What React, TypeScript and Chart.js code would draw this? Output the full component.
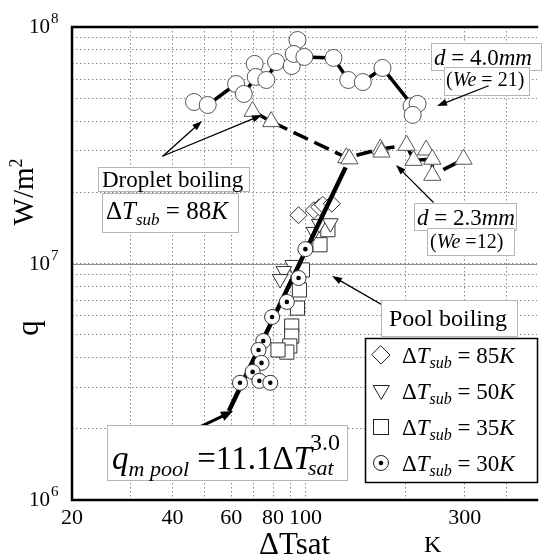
import React, { useEffect, useRef } from 'react';
import { Chart, registerables } from 'chart.js';

Chart.register(...registerables);

const FONT = '"Liberation Serif", "Times New Roman", serif';

// Droplet boiling, d = 4.0 mm (We = 21) — open circles
const drop40T = [46.4, 51.0, 62.0, 65.4, 70.5, 71.0, 76.4, 81.7, 91.0, 94.7, 92.3, 99.3, 121.4, 134.4, 148.6, 170.2, 208, 216.8, 209.6];
const drop40Q = [4.82e7, 4.68e7, 5.74e7, 5.21e7, 6.98e7, 6.15e7, 5.97e7, 7.11e7, 6.84e7, 8.81e7, 7.69e7, 7.47e7, 7.4e7, 5.97e7, 5.85e7, 6.71e7, 4.63e7, 4.73e7, 4.25e7];
// trend line through the d = 4.0 mm data
const drop40LineT = [46.4, 51.0, 62.0, 65.4, 71.0, 76.4, 81.7, 91.0, 99.3, 121.4, 134.4, 148.6, 170.2, 210];
const drop40LineQ = [4.82e7, 4.68e7, 5.74e7, 5.21e7, 6.15e7, 5.97e7, 7.11e7, 6.84e7, 7.47e7, 7.4e7, 5.97e7, 5.85e7, 6.71e7, 4.63e7];

// Droplet boiling, d = 2.3 mm (We = 12) — open triangles
const drop23T = [69.5, 79, 132.6, 135.4, 167.8, 169, 201, 211, 230, 240, 240, 297.6];
const drop23Q = [4.4e7, 3.98e7, 2.8e7, 2.77e7, 3.05e7, 2.96e7, 3.16e7, 2.73e7, 3.02e7, 2.76e7, 2.36e7, 2.76e7];
const drop23LineT = [69.5, 79, 133, 168, 201, 211, 240, 240, 298];
const drop23LineQ = [4.4e7, 3.98e7, 2.8e7, 3.05e7, 3.16e7, 2.73e7, 2.76e7, 2.36e7, 2.76e7];

// Pool boiling correlation q = 11.1 dT^3.0 (end points)
const poolLineT = [59, 132];
const poolLineQ = [2.38e6, 2.55e7];

// Pool boiling data
const sub85T = [95.4, 106, 110, 112.8, 120];
const sub85Q = [1.6e7, 1.68e7, 1.73e7, 1.77e7, 1.79e7];
const sub50T = [106, 110, 118.8, 91.6, 86.2, 84];
const sub50Q = [1.36e7, 1.47e7, 1.48e7, 9.86e6, 9.29e6, 8.6e6];
const sub35T = [116.8, 110.6, 98, 96, 94.7, 91, 91, 89.8, 88, 82.8];
const sub35Q = [1.39e7, 1.2e7, 9.39e6, 7.73e6, 6.48e6, 5.44e6, 4.93e6, 4.48e6, 4.22e6, 4.31e6];
const sub30T = [100, 95.4, 88, 79.5, 74.8, 72.4, 73.9, 69.5, 63.7, 72.8, 78.5];
const sub30Q = [1.15e7, 8.68e6, 6.88e6, 5.94e6, 4.7e6, 4.31e6, 3.8e6, 3.48e6, 3.13e6, 3.19e6, 3.13e6];

// Axes
const xGridValues = [20, 30, 40, 50, 60, 70, 80, 90, 100, 200, 300, 400];
const xTickValues = [20, 40, 60, 80, 100, 300];
const xTickLabels = ['20', '40', '60', '80', '100', '300'];
const yGridValues = [1e6, 2e6, 3e6, 4e6, 5e6, 6e6, 7e6, 8e6, 9e6, 1e7, 2e7, 3e7, 4e7, 5e7, 6e7, 7e7, 8e7, 9e7, 1e8];
const yTickValues = [1e6, 1e7, 1e8];
const yTickBase = ['10', '10', '10'];
const yTickExp = ['6', '7', '8'];
const legendValues = ['85', '50', '35', '30'];

const pts = (xs: number[], ys: number[]) => xs.map((x, i) => ({ x, y: ys[i] }));

type Piece = { t: string; size: number; italic?: boolean; dy?: number };

function richWidth(ctx: CanvasRenderingContext2D, pieces: Piece[]) {
  let w = 0;
  for (const p of pieces) {
    ctx.font = `${p.italic ? 'italic ' : ''}${p.size}px ${FONT}`;
    w += ctx.measureText(p.t).width;
  }
  return w;
}

function drawRich(ctx: CanvasRenderingContext2D, x: number, y: number, pieces: Piece[]) {
  let cx = x;
  for (const p of pieces) {
    ctx.font = `${p.italic ? 'italic ' : ''}${p.size}px ${FONT}`;
    ctx.fillText(p.t, cx, y + (p.dy || 0));
    cx += ctx.measureText(p.t).width;
  }
  return cx;
}

function arrow(ctx: CanvasRenderingContext2D, x1: number, y1: number, x2: number, y2: number, lw: number, hl: number, hw: number) {
  const ang = Math.atan2(y2 - y1, x2 - x1);
  const bx = x2 - Math.cos(ang) * hl;
  const by = y2 - Math.sin(ang) * hl;
  ctx.save();
  ctx.strokeStyle = '#000';
  ctx.fillStyle = '#000';
  ctx.lineWidth = lw;
  ctx.beginPath();
  ctx.moveTo(x1, y1);
  ctx.lineTo(bx, by);
  ctx.stroke();
  ctx.beginPath();
  ctx.moveTo(x2, y2);
  ctx.lineTo(bx + Math.sin(ang) * hw, by - Math.cos(ang) * hw);
  ctx.lineTo(bx - Math.sin(ang) * hw, by + Math.cos(ang) * hw);
  ctx.closePath();
  ctx.fill();
  ctx.restore();
}

function box(ctx: CanvasRenderingContext2D, x1: number, y1: number, x2: number, y2: number, color = '#b5b5b5', lw = 1) {
  ctx.save();
  ctx.fillStyle = '#fff';
  ctx.fillRect(x1, y1, x2 - x1, y2 - y1);
  ctx.strokeStyle = color;
  ctx.lineWidth = lw;
  ctx.strokeRect(x1 + 0.5, y1 + 0.5, x2 - x1, y2 - y1);
  ctx.restore();
}

const decorPlugin = {
  id: 'decor',
  beforeDatasetsDraw(chart: any) {
    const { ctx, chartArea: a, scales } = chart;
    const y7 = Math.round(scales.y.getPixelForValue(1e7)) + 0.5;
    ctx.save();
    ctx.strokeStyle = '#8e8e8e';
    ctx.lineWidth = 1;
    ctx.beginPath();
    ctx.moveTo(a.left, y7);
    ctx.lineTo(a.right, y7);
    ctx.stroke();
    ctx.restore();
  },
  afterDraw(chart: any) {
    const { ctx, chartArea: a, scales } = chart;
    ctx.save();
    // frame
    ctx.strokeStyle = '#000';
    ctx.lineCap = 'square';
    ctx.lineWidth = 2.5;
    ctx.beginPath();
    ctx.moveTo(a.right, a.top);
    ctx.lineTo(a.left, a.top);
    ctx.lineTo(a.left, a.bottom);
    ctx.lineTo(a.right, a.bottom);
    ctx.stroke();

    ctx.fillStyle = '#000';
    ctx.textBaseline = 'alphabetic';
    ctx.textAlign = 'left';

    // y tick labels 10^n
    yTickValues.forEach((v, i) => {
      const py = scales.y.getPixelForValue(v);
      ctx.font = `21px ${FONT}`;
      const w = ctx.measureText(yTickBase[i]).width;
      ctx.fillText(yTickBase[i], 50 - w, py + 6);
      ctx.font = `15px ${FONT}`;
      ctx.fillText(yTickExp[i], 51, py - 4);
    });

    // y axis titles
    ctx.save();
    ctx.translate(33, 192);
    ctx.rotate(-Math.PI / 2);
    const wm: Piece[] = [{ t: 'W/m', size: 29 }, { t: '2', size: 18, dy: -11 }];
    drawRich(ctx, -richWidth(ctx, wm) / 2, 0, wm);
    ctx.restore();
    ctx.save();
    ctx.translate(37.5, 328);
    ctx.rotate(-Math.PI / 2);
    ctx.font = `31px ${FONT}`;
    ctx.textAlign = 'center';
    ctx.fillText('q', 0, 0);
    ctx.restore();

    // x axis titles
    ctx.font = `31px ${FONT}`;
    ctx.fillText('\u0394Tsat', 259, 554);
    ctx.font = `24px ${FONT}`;
    ctx.fillText('K', 424, 552);

    // Droplet boiling annotation
    arrow(ctx, 163, 156, 202, 121, 1.3, 10, 3.5);
    arrow(ctx, 163, 156, 262, 115, 1.3, 10, 3.5);
    box(ctx, 98, 167, 249, 191);
    drawRich(ctx, 102, 187, [{ t: 'Droplet boiling', size: 23 }]);
    box(ctx, 102, 193, 238, 232);
    drawRich(ctx, 106, 219, [
      { t: '\u0394', size: 25 },
      { t: 'T', size: 25, italic: true },
      { t: 'sub', size: 17, italic: true, dy: 6 },
      { t: ' = 88', size: 25 },
      { t: 'K', size: 25, italic: true },
    ]);

    // d = 4.0 mm
    box(ctx, 431, 43, 541, 70);
    drawRich(ctx, 434, 65, [
      { t: 'd', size: 23, italic: true },
      { t: ' = 4.0', size: 23 },
      { t: 'mm', size: 23, italic: true },
    ]);
    box(ctx, 444, 67, 529, 95);
    drawRich(ctx, 446, 86, [
      { t: '(', size: 20 },
      { t: 'We', size: 20, italic: true },
      { t: ' = 21)', size: 20 },
    ]);
    arrow(ctx, 488, 86, 437, 106, 1.3, 10, 3.5);

    // d = 2.3 mm
    arrow(ctx, 433, 202, 396, 165, 1.3, 10, 3.5);
    box(ctx, 414, 203, 516, 230);
    drawRich(ctx, 417, 225, [
      { t: 'd', size: 23, italic: true },
      { t: ' = 2.3', size: 23 },
      { t: 'mm', size: 23, italic: true },
    ]);
    box(ctx, 427, 228, 514, 255);
    drawRich(ctx, 430, 248, [
      { t: '(', size: 20 },
      { t: 'We', size: 20, italic: true },
      { t: ' =12)', size: 20 },
    ]);

    // Pool boiling
    arrow(ctx, 384, 306, 332, 276, 1.3, 10, 3.5);
    box(ctx, 381, 300, 517, 336);
    drawRich(ctx, 389, 326, [{ t: 'Pool boiling', size: 24 }]);

    // Legend
    box(ctx, 365, 338, 537, 482, '#000', 1.5);
    const baselines = [363, 399, 435, 471];
    const sx = 381;
    ctx.strokeStyle = '#222';
    ctx.lineWidth = 1;
    // diamond
    let cy = baselines[0] - 8;
    ctx.beginPath();
    ctx.moveTo(sx, cy - 9); ctx.lineTo(sx + 9, cy); ctx.lineTo(sx, cy + 9); ctx.lineTo(sx - 9, cy); ctx.closePath();
    ctx.stroke();
    // down triangle
    cy = baselines[1] - 9;
    ctx.beginPath();
    ctx.moveTo(sx, cy + 9); ctx.lineTo(sx - 7.8, cy - 4.5); ctx.lineTo(sx + 7.8, cy - 4.5); ctx.closePath();
    ctx.stroke();
    // square
    cy = baselines[2] - 8;
    ctx.strokeRect(sx - 7.5, cy - 7.5, 15, 15);
    // dotted circle
    cy = baselines[3] - 8;
    ctx.beginPath(); ctx.arc(sx, cy, 7.5, 0, Math.PI * 2); ctx.stroke();
    ctx.beginPath(); ctx.arc(sx, cy, 2.3, 0, Math.PI * 2); ctx.fill();
    legendValues.forEach((v, i) => {
      drawRich(ctx, 402, baselines[i], [
        { t: '\u0394', size: 23 },
        { t: 'T', size: 23, italic: true },
        { t: 'sub', size: 16, italic: true, dy: 5 },
        { t: ' = ' + v, size: 23 },
        { t: 'K', size: 23, italic: true },
      ]);
    });

    // Formula
    arrow(ctx, 162, 445, 233, 411, 3, 12, 5);
    box(ctx, 107, 425, 347, 480);
    let fx = drawRich(ctx, 112, 469, [
      { t: 'q', size: 33, italic: true },
      { t: 'm pool', size: 22, italic: true, dy: 7 },
      { t: ' =11.1\u0394', size: 33 },
      { t: 'T', size: 33, italic: true },
    ]);
    ctx.font = `24px ${FONT}`;
    ctx.fillText('3.0', fx - 2, 450);
    ctx.font = `italic 22px ${FONT}`;
    ctx.fillText('sat', fx - 4, 475);

    ctx.restore();
  },
};

export default function App() {
  const ref = useRef<HTMLCanvasElement | null>(null);
  useEffect(() => {
    if (!ref.current) return;
    const white = '#ffffff';
    const edge = '#333333';
    const chart = new Chart(ref.current, {
      type: 'scatter',
      data: {
        datasets: [
          { label: 'dot30', data: pts(sub30T, sub30Q), pointStyle: 'circle', pointRadius: 2.3, backgroundColor: '#000', borderWidth: 0, order: 0 },
          { label: 'sub30', data: pts(sub30T, sub30Q), pointStyle: 'circle', pointRadius: 7.5, backgroundColor: white, borderColor: edge, borderWidth: 1, order: 1 },
          { label: 'pool', data: pts(poolLineT, poolLineQ), showLine: true, pointRadius: 0, borderColor: '#000', borderWidth: 4.5, order: 2 },
          { label: 'sub85', data: pts(sub85T, sub85Q), pointStyle: 'rectRot', pointRadius: 8.5, backgroundColor: white, borderColor: edge, borderWidth: 1, order: 3 },
          { label: 'sub50', data: pts(sub50T, sub50Q), pointStyle: 'triangle', pointRotation: 180, pointRadius: 9, backgroundColor: white, borderColor: edge, borderWidth: 1, order: 4 },
          { label: 'sub35', data: pts(sub35T, sub35Q), pointStyle: 'rect', pointRadius: 10, backgroundColor: white, borderColor: edge, borderWidth: 1, order: 5 },
          { label: 'drop40', data: pts(drop40T, drop40Q), pointStyle: 'circle', pointRadius: 8.5, backgroundColor: white, borderColor: '#555', borderWidth: 1, order: 6 },
          { label: 'drop23', data: pts(drop23T, drop23Q), pointStyle: 'triangle', pointRadius: 10, backgroundColor: white, borderColor: '#555', borderWidth: 1, order: 7 },
          { label: 'line40', data: pts(drop40LineT, drop40LineQ), showLine: true, pointRadius: 0, borderColor: '#000', borderWidth: 3.5, order: 8 },
          { label: 'line23', data: pts(drop23LineT, drop23LineQ), showLine: true, pointRadius: 0, borderColor: '#000', borderWidth: 3.5, borderDash: [16, 7], order: 9 },
        ] as any,
      },
      options: {
        animation: false,
        responsive: false,
        events: [],
        layout: { padding: { top: 27, left: 0, right: 0, bottom: 0 } },
        plugins: { legend: { display: false }, tooltip: { enabled: false } },
        scales: {
          x: {
            type: 'logarithmic',
            min: 20,
            max: 494,
            afterBuildTicks: (s: any) => { s.ticks = xGridValues.map((v) => ({ value: v })); },
            afterFit: (s: any) => { s.height = 56; },
            grid: { color: '#8a8a8a', lineWidth: 1, drawTicks: false },
            border: { display: false, dash: [1.5, 2.5] },
            ticks: {
              autoSkip: false,
              maxRotation: 0,
              padding: 5,
              color: '#000',
              font: { family: FONT, size: 22 },
              callback: (v: any) => {
                const i = xTickValues.indexOf(Number(v));
                return i >= 0 ? xTickLabels[i] : '';
              },
            },
          },
          y: {
            type: 'logarithmic',
            min: 1e6,
            max: 1e8,
            afterBuildTicks: (s: any) => { s.ticks = yGridValues.map((v) => ({ value: v })); },
            afterFit: (s: any) => { s.width = 72; },
            grid: { color: '#8a8a8a', lineWidth: 1, drawTicks: false },
            border: { display: false, dash: [1.5, 2.5] },
            ticks: { display: false },
          },
        },
      } as any,
      plugins: [decorPlugin],
    });
    return () => chart.destroy();
  }, []);
  return (
    <div style={{ position: 'fixed', left: 0, top: 0, width: 548, height: 556, background: '#fff' }}>
      <canvas ref={ref} width={548} height={556} style={{ display: 'block' }} />
    </div>
  );
}
